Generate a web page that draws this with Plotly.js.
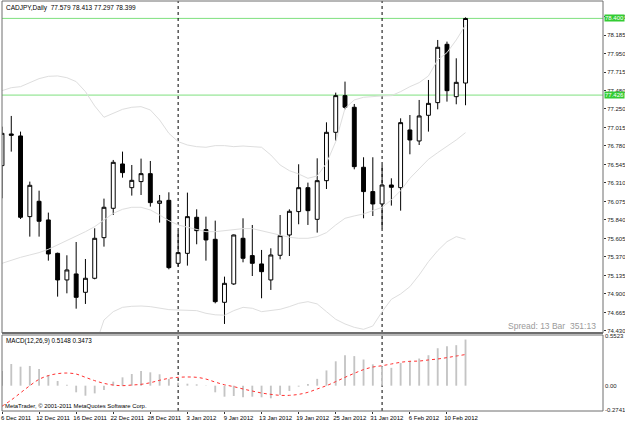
<!DOCTYPE html>
<html>
<head>
<meta charset="utf-8">
<script src="https://cdn.plot.ly/plotly-3.0.1.min.js"></script>
<style>
html,body{margin:0;padding:0;background:#fff;}
#chart{width:625px;height:421px;}
</style>
</head>
<body>
<div id="chart"></div>
<script>
// ---- data (CADJPY Daily, 6 Dec 2011 .. 14 Feb 2012) ----
const barIndex = Array.from({length: 51}, (_, i) => i);

const openP = [76.530, 76.932, 76.907, 75.882, 76.077, 75.840, 75.416, 75.078, 75.154, 74.921,
  75.099, 75.615, 75.988, 76.551, 76.250, 76.327, 76.428, 76.051, 76.089, 75.289,
  75.416, 75.874, 75.717, 75.594, 74.794, 75.027, 75.607, 75.387, 75.281, 75.078,
  75.391, 75.649, 75.946, 76.250, 75.848, 76.339, 76.953, 77.419, 77.271, 76.509,
  76.200, 76.043, 76.284, 76.250, 76.983, 76.843, 77.169, 77.330, 78.071, 77.406, 77.579];
const highP = [77.025, 77.161, 76.962, 76.327, 76.212, 75.933, 75.425, 75.391, 75.560, 75.344,
  75.734, 76.111, 76.602, 76.708, 76.538, 76.619, 76.589, 76.157, 76.191, 75.704,
  76.187, 75.975, 75.882, 75.831, 75.120, 75.655, 75.861, 75.776, 75.459, 75.480,
  75.903, 75.975, 76.547, 76.314, 76.623, 77.080, 77.457, 77.597, 77.313, 76.636,
  76.636, 76.538, 76.369, 77.131, 77.173, 77.364, 77.618, 78.126, 78.105, 77.893, 78.413];
const lowP = [76.115, 76.708, 75.852, 75.628, 75.628, 75.323, 74.866, 74.908, 74.713, 74.773,
  75.086, 75.501, 75.903, 76.377, 76.149, 76.157, 76.009, 75.806, 75.213, 75.247,
  75.260, 75.531, 75.323, 74.781, 74.519, 75.015, 75.302, 75.128, 74.845, 74.951,
  75.340, 75.382, 75.785, 75.776, 75.679, 76.233, 76.847, 77.245, 76.483, 75.861,
  75.890, 75.734, 76.022, 75.958, 76.674, 76.792, 76.962, 77.245, 77.343, 77.309, 77.297];
const closeP = [76.940, 76.915, 75.874, 76.280, 75.823, 75.408, 75.078, 75.205, 74.857, 75.099,
  75.607, 76.001, 76.572, 76.441, 76.343, 76.428, 76.060, 76.081, 75.234, 75.425,
  75.882, 75.704, 75.586, 74.802, 75.035, 75.649, 75.353, 75.289, 75.183, 75.395,
  75.641, 75.950, 76.250, 75.958, 76.339, 76.953, 77.419, 77.271, 76.517, 76.200,
  76.043, 76.284, 76.255, 77.076, 76.856, 77.161, 77.321, 78.033, 77.482, 77.588, 78.399];

const bbUpper = [77.482, 77.520, 77.533, 77.584, 77.635, 77.664, 77.669, 77.647, 77.597, 77.470,
  77.288, 77.144, 77.194, 77.245, 77.271, 77.279, 77.237, 77.110, 76.940, 76.835,
  76.792, 76.771, 76.763, 76.784, 76.784, 76.771, 76.779, 76.775, 76.763, 76.665,
  76.538, 76.466, 76.424, 76.369, 76.399, 76.559, 76.835, 77.258, 77.364, 77.398,
  77.410, 77.415, 77.419, 77.470, 77.533, 77.584, 77.669, 77.872, 77.965, 78.126, 78.316];
const bbMiddle = [75.289, 75.332, 75.365, 75.395, 75.425, 75.467, 75.522, 75.577, 75.628, 75.691,
  75.755, 75.840, 75.924, 75.975, 76.001, 76.001, 75.967, 75.903, 75.831, 75.776,
  75.747, 75.713, 75.691, 75.691, 75.704, 75.721, 75.730, 75.730, 75.704, 75.670,
  75.645, 75.620, 75.607, 75.607, 75.628, 75.679, 75.776, 75.861, 75.891, 75.916,
  75.958, 76.001, 76.094, 76.212, 76.369, 76.496, 76.610, 76.695, 76.771, 76.856, 76.949];
const bbLower = [null, null, null, null, null, null, null, null, null, null,
  74.220, 74.569, 74.675, 74.730, 74.743, 74.747, 74.739, 74.718, 74.701, 74.696,
  74.696, 74.688, 74.654, 74.635, 74.630, 74.688, 74.730, 74.718, 74.675, 74.688,
  74.705, 74.739, 74.781, 74.802, 74.773, 74.675, 74.578, 74.519, 74.476, 74.451,
  74.493, 74.675, 74.832, 74.900, 74.993, 75.141, 75.310, 75.450, 75.564, 75.628, 75.594];

const macdMain = [0.164, 0.242, 0.212, 0.220, 0.186, 0.119, 0.052, 0.010, -0.074, -0.112,
  -0.086, -0.048, 0.045, 0.093, 0.130, 0.164, 0.149, 0.127, 0.074, 0.033,
  0.022, 0.015, -0.005, -0.074, -0.123, -0.115, -0.130, -0.123, -0.130, -0.141,
  -0.104, -0.060, -0.011, 0.020, 0.076, 0.170, 0.272, 0.340, 0.330, 0.292,
  0.238, 0.215, 0.199, 0.254, 0.276, 0.303, 0.340, 0.418, 0.441, 0.452, 0.5148];
const macdSignal = [-0.230, -0.160, -0.080, 0.000, 0.071, 0.112, 0.134, 0.141, 0.130, 0.093,
  0.056, 0.026, 0.007, 0.000, 0.007, 0.015, 0.033, 0.060, 0.082, 0.093,
  0.097, 0.093, 0.074, 0.040, 0.010, -0.011, -0.037, -0.060, -0.082, -0.097,
  -0.108, -0.108, -0.097, -0.074, -0.037, 0.000, 0.045, 0.093, 0.138, 0.179,
  0.208, 0.223, 0.242, 0.261, 0.272, 0.275, 0.287, 0.298, 0.313, 0.331, 0.3473];

const dateTickIdx = [0, 4, 8, 12, 16, 20, 24, 28, 32, 36, 40, 44, 48];
const dateTickText = ['6 Dec 2011', '12 Dec 2011', '16 Dec 2011', '22 Dec 2011', '28 Dec 2011',
  '3 Jan 2012', '9 Jan 2012', '13 Jan 2012', '19 Jan 2012', '25 Jan 2012', '31 Jan 2012',
  '6 Feb 2012', '10 Feb 2012'];
const monthSepIdx = [19, 41];

const priceTickVals = [78.420, 78.185, 77.950, 77.715, 77.480, 77.250, 77.015, 76.780, 76.545,
  76.310, 76.075, 75.840, 75.605, 75.370, 75.135, 74.900, 74.665, 74.430];
const priceTickText = ['78.420', '78.185', '77.950', '77.715', '77.480', '77.250', '77.015', '76.780',
  '76.545', '76.310', '76.075', '75.840', '75.605', '75.370', '75.135', '74.900', '74.665', '74.430'];
const macdTickVals = [0.5523, 0.0, -0.2741];
const macdTickText = ['0.5523', '0.00', '-0.2741'];
const hLines = [78.400, 77.426];
const hLineText = ['78.400', '77.426'];

const titleText = 'CADJPY,Daily  77.579 78.413 77.297 78.399';
const macdLabel = 'MACD(12,26,9) 0.5148 0.3473';
const spreadText = 'Spread: 13 Bar  351:13';
const copyText = 'MetaTrader, © 2001-2011 MetaQuotes Software Corp.';

// ---- styling ----
const FONT = 'Liberation Sans, Arial, sans-serif';
const bandColor = '#dedede';
const frameColor = '#6e6e6e';

const traces = [
  {type: 'scatter', mode: 'lines', x: barIndex, y: bbUpper, xaxis: 'x', yaxis: 'y',
   line: {color: bandColor, width: 1}, hoverinfo: 'skip', showlegend: false},
  {type: 'scatter', mode: 'lines', x: barIndex, y: bbMiddle, xaxis: 'x', yaxis: 'y',
   line: {color: bandColor, width: 1}, hoverinfo: 'skip', showlegend: false},
  {type: 'scatter', mode: 'lines', x: barIndex, y: bbLower, xaxis: 'x', yaxis: 'y',
   line: {color: bandColor, width: 1}, hoverinfo: 'skip', showlegend: false, connectgaps: false},
  {type: 'candlestick', x: barIndex, open: openP, high: highP, low: lowP, close: closeP,
   xaxis: 'x', yaxis: 'y', whiskerwidth: 0,
   increasing: {line: {color: '#000000', width: 1}, fillcolor: '#ffffff'},
   decreasing: {line: {color: '#000000', width: 1}, fillcolor: '#000000'},
   showlegend: false},
  {type: 'bar', x: barIndex, y: macdMain, xaxis: 'x', yaxis: 'y2', width: 0.2,
   marker: {color: '#c4c4c4', line: {width: 0}}, showlegend: false},
  {type: 'scatter', mode: 'lines', x: barIndex, y: macdSignal, xaxis: 'x', yaxis: 'y2',
   line: {color: '#ff3030', width: 1, dash: 'dot', shape: 'spline'}, showlegend: false}
];

const mainBottom = (411 - 333) / 410;
const macdTop = (411 - 335) / 410;

const shapes = [];
hLines.forEach(v => shapes.push({type: 'line', xref: 'paper', x0: 0, x1: 1, yref: 'y', y0: v, y1: v,
  line: {color: '#7fe07f', width: 1}, layer: 'below'}));
monthSepIdx.forEach(i => shapes.push({type: 'line', xref: 'x', x0: i, x1: i, yref: 'paper', y0: 0, y1: 1,
  line: {color: '#000000', width: 1, dash: 'dot'}, layer: 'below'}));
shapes.push({type: 'rect', xref: 'paper', x0: 0, x1: 1, yref: 'paper', y0: mainBottom, y1: 1,
  line: {color: frameColor, width: 1}});
shapes.push({type: 'line', xref: 'paper', x0: 0, x1: 1, yref: 'paper', y0: mainBottom, y1: mainBottom,
  line: {color: frameColor, width: 2}});
shapes.push({type: 'rect', xref: 'paper', x0: 0, x1: 1, yref: 'paper', y0: 0, y1: macdTop,
  line: {color: frameColor, width: 1}});

const annotations = [
  {xref: 'paper', yref: 'paper', x: 0.004, y: 1, xanchor: 'left', yanchor: 'top', yshift: -1,
   text: titleText, showarrow: false, font: {family: FONT, size: 6.5, color: '#000'}},
  {xref: 'paper', yref: 'y', x: 0.992, y: 74.487, xanchor: 'right', yanchor: 'middle',
   text: spreadText, showarrow: false, font: {family: FONT, size: 8.5, color: '#9a9a9a'}},
  {xref: 'paper', yref: 'y2', x: 0.004, y: 0.50, xanchor: 'left', yanchor: 'middle',
   text: macdLabel, showarrow: false, font: {family: FONT, size: 6.3, color: '#000'}},
  {xref: 'paper', yref: 'y2', x: 0.002, y: -0.227, xanchor: 'left', yanchor: 'middle',
   text: copyText, showarrow: false, font: {family: FONT, size: 5.9, color: '#000'}}
];
hLines.forEach((v, k) => annotations.push({xref: 'paper', yref: 'y', x: 1, y: v, xanchor: 'left',
  yanchor: 'middle', xshift: 1, text: hLineText[k], showarrow: false, bgcolor: '#33cc33',
  borderpad: 0, font: {family: FONT, size: 6, color: '#ffffff'}}));

const layout = {
  width: 625, height: 421,
  margin: {l: 2, r: 22, t: 1, b: 10, pad: 0},
  paper_bgcolor: '#ffffff', plot_bgcolor: '#ffffff',
  showlegend: false, dragmode: false, boxgap: 0.4,
  font: {family: FONT, size: 6, color: '#000'},
  xaxis: {anchor: 'y2', range: [0, 64.83], showgrid: false, zeroline: false,
    rangeslider: {visible: false}, showline: false, tickangle: 0, automargin: false,
    tickmode: 'array', tickvals: dateTickIdx, ticktext: dateTickText,
    ticks: 'outside', ticklen: 2, tickcolor: '#333', ticklabelshift: 14, ticklabelstandoff: -1,
    tickfont: {family: FONT, size: 6, color: '#000'}},
  yaxis: {domain: [mainBottom, 1], range: [74.404, 78.621], side: 'right', showgrid: false,
    zeroline: false, showline: false, tickmode: 'array', tickvals: priceTickVals, ticktext: priceTickText,
    ticks: 'outside', ticklen: 2, tickcolor: '#333', ticklabelstandoff: 0, automargin: false,
    tickfont: {family: FONT, size: 6, color: '#222'}},
  yaxis2: {domain: [0, macdTop], range: [-0.2828, 0.5657], side: 'right', showgrid: false,
    zeroline: false, showline: false, tickmode: 'array', tickvals: macdTickVals, ticktext: macdTickText,
    ticks: '', automargin: false, ticklabelstandoff: 1, tickfont: {family: FONT, size: 6, color: '#222'}},
  shapes: shapes,
  annotations: annotations
};

Plotly.newPlot('chart', traces, layout, {staticPlot: true, displayModeBar: false});
</script>
</body>
</html>
